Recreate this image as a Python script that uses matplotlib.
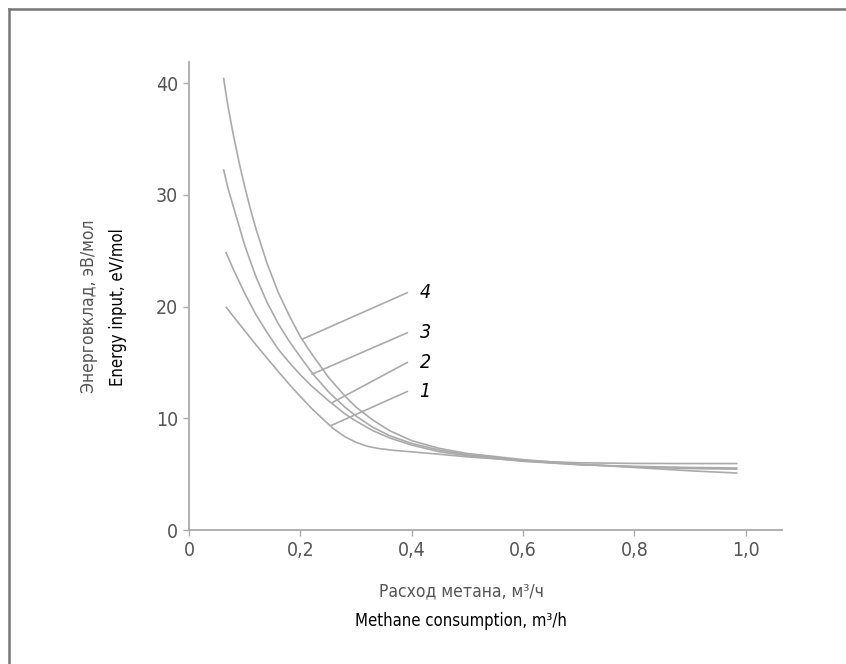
import numpy as np
import matplotlib.pyplot as plt
from matplotlib.lines import Line2D

plt.rcParams['font.family'] = ['DejaVu Sans']
plt.rcParams['font.stretch'] = 'condensed'

# ── Curve data ────────────────────────────────────────────────
x1 = [0.066, 0.08, 0.10, 0.12, 0.14, 0.16, 0.18, 0.20, 0.22, 0.24, 0.26,
      0.28, 0.30, 0.32, 0.34, 0.37, 0.40, 0.45, 0.50, 0.60, 0.70, 0.80,
      0.90, 0.985]
y1 = [20.0, 19.1, 17.85, 16.6, 15.4, 14.2, 13.05, 11.95, 10.9, 9.95, 9.05,
      8.35, 7.85, 7.5, 7.3, 7.12, 7.0, 6.78, 6.55, 6.2, 6.02, 5.96,
      5.95, 5.95]

x2 = [0.066, 0.08, 0.10, 0.12, 0.14, 0.16, 0.18, 0.20, 0.22, 0.25, 0.28,
      0.30, 0.33, 0.36, 0.40, 0.45, 0.50, 0.60, 0.70, 0.80, 0.90, 0.985]
y2 = [24.9, 23.3, 21.2, 19.3, 17.7, 16.2, 15.0, 13.9, 12.9, 11.6, 10.4,
      9.75, 8.9, 8.25, 7.6, 7.0, 6.65, 6.15, 5.85, 5.65, 5.5, 5.45]

x3 = [0.062, 0.07, 0.08, 0.09, 0.10, 0.12, 0.14, 0.16, 0.18, 0.20, 0.222,
      0.25, 0.28, 0.30, 0.33, 0.36, 0.40, 0.45, 0.50, 0.60, 0.70, 0.80,
      0.90, 0.985]
y3 = [32.3, 30.6, 28.9, 27.2, 25.5, 22.7, 20.4, 18.5, 16.9, 15.5, 14.0,
      12.4, 11.0, 10.2, 9.2, 8.45, 7.75, 7.15, 6.75, 6.2, 5.85, 5.7,
      5.6, 5.55]

x4 = [0.062, 0.066, 0.07, 0.075, 0.08, 0.09, 0.10, 0.11, 0.12, 0.14, 0.16,
      0.18, 0.20, 0.22, 0.25, 0.28, 0.30, 0.33, 0.36, 0.40, 0.45, 0.50,
      0.60, 0.70, 0.80, 0.90, 0.985]
y4 = [40.5, 39.2, 37.95, 36.6, 35.3, 32.9, 30.75, 28.8, 27.0, 23.9, 21.3,
      19.2, 17.3, 15.8, 13.7, 12.0, 11.0, 9.85, 8.9, 8.0, 7.3, 6.85,
      6.3, 5.9, 5.6, 5.3, 5.1]

curves = [(x1, y1), (x2, y2), (x3, y3), (x4, y4)]
curve_labels = ['1', '2', '3', '4']

# leader lines: start on curve -> end near label
leader_start = [(0.255, 9.35), (0.257, 11.4), (0.221, 13.95), (0.204, 17.1)]
leader_end = [(0.392, 12.4), (0.392, 15.0), (0.392, 17.66), (0.392, 21.25)]

xticks = [0, 0.2, 0.4, 0.6, 0.8, 1.0]
xticklabels = ['0', '0,2', '0,4', '0,6', '0,8', '1,0']
yticks = [0, 10, 20, 30, 40]

GRAY_LINE = '#aaaaaa'
GRAY_TEXT = '#555555'

fig = plt.figure(figsize=(8.46, 6.64), dpi=100)
ax = fig.add_axes([0.2234, 0.2018, 0.701, 0.7048])

for xs, ys in curves:
    ax.plot(xs, ys, color=GRAY_LINE, lw=1.2, solid_capstyle='butt')

for (xs, ys), (xe, ye), lab in zip(leader_start, leader_end, curve_labels):
    ax.plot([xs, xe], [ys, ye], color=GRAY_LINE, lw=1.2)
    ax.text(xe + 0.022, ye, lab, fontsize=14, style='italic',
            color='black', ha='left', va='center')

ax.set_xlim(0, 1.065)
ax.set_ylim(0, 41.9)
ax.set_xticks(xticks)
ax.set_xticklabels(xticklabels)
ax.set_yticks(yticks)

for side in ['top', 'right']:
    ax.spines[side].set_visible(False)
for side in ['left', 'bottom']:
    ax.spines[side].set_color(GRAY_LINE)
    ax.spines[side].set_linewidth(1.3)

ax.tick_params(axis='both', direction='out', length=4, width=1,
               color=GRAY_LINE, labelcolor=GRAY_TEXT, labelsize=14, pad=4)

# axis titles (Russian in gray, English in black)
fig.text(0.545, 0.110, 'Расход метана, м³/ч', fontsize=12.5,
         color=GRAY_TEXT, ha='center', va='center')
fig.text(0.545, 0.065, 'Methane consumption, m³/h', fontsize=12,
         color='black', ha='center', va='center')
fig.text(0.105, 0.538, 'Энерговклад, эВ/мол', fontsize=12.5,
         color=GRAY_TEXT, ha='center', va='center', rotation=90)
fig.text(0.140, 0.538, 'Energy input, eV/mol', fontsize=12,
         color='black', ha='center', va='center', rotation=90)

# partial frame (left and top edges)
fig.add_artist(Line2D([0.0112, 0.0112], [0.0, 0.9857],
                      color='#777777', lw=1.8, transform=fig.transFigure))
fig.add_artist(Line2D([0.0112, 1.0], [0.9857, 0.9857],
                      color='#777777', lw=1.8, transform=fig.transFigure))

plt.savefig('out.png', dpi=100, facecolor='white')
plt.close()
